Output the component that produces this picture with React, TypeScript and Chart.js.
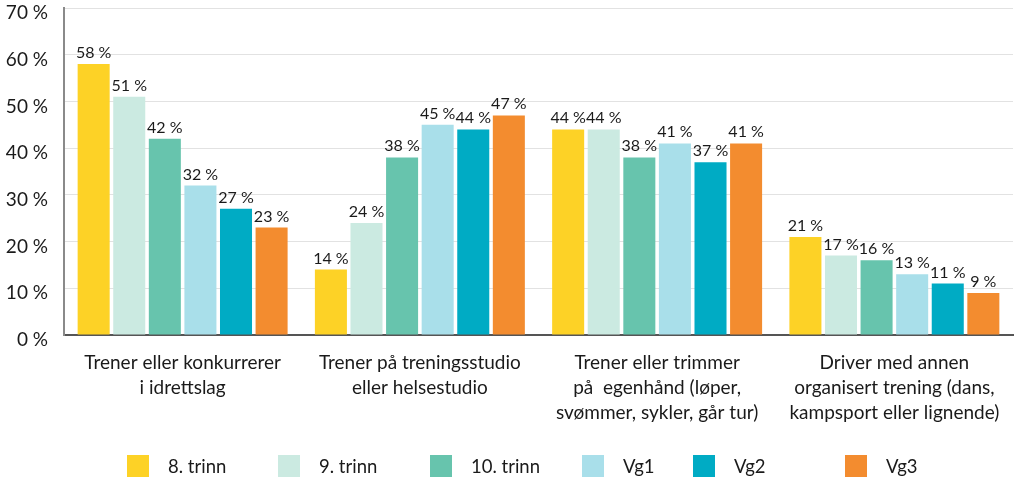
import React, { useEffect, useRef } from "react";
import { Chart, registerables } from "chart.js";

Chart.register(...registerables);

const categories: string[][] = [
  ["Trener eller konkurrerer", "i idrettslag"],
  ["Trener på treningsstudio", "eller helsestudio"],
  ["Trener eller trimmer", "på  egenhånd (løper,", "svømmer, sykler, går tur)"],
  ["Driver med annen", "organisert trening (dans,", "kampsport eller lignende)"],
];
const seriesNames = ["8. trinn", "9. trinn", "10. trinn", "Vg1", "Vg2", "Vg3"];
const trinn8 = [58, 14, 44, 21];
const trinn9 = [51, 24, 44, 17];
const trinn10 = [42, 38, 38, 16];
const vg1 = [32, 45, 41, 13];
const vg2 = [27, 44, 37, 11];
const vg3 = [23, 47, 41, 9];
const seriesValues = [trinn8, trinn9, trinn10, vg1, vg2, vg3];
const seriesColors = ["#FDD226", "#CBEAE1", "#67C4AD", "#A9DFEA", "#00ABC4", "#F38C2F"];
const yMin = 0;
const yMax = 70;
const yStep = 10;

// legend layout: left edge of the first swatch and offsets of each swatch from it
const legendStartX = 127;
const legendOffsets = [0, 151, 303, 455, 566, 718];

const FONT = "Lato, 'Open Sans', sans-serif";
const TEXT = "#1a1a1a";

const valueLabels = {
  id: "valueLabels",
  afterDatasetsDraw(chart: any) {
    const ctx = chart.ctx;
    ctx.save();
    ctx.font = `16px ${FONT}`;
    ctx.fillStyle = TEXT;
    ctx.textAlign = "center";
    ctx.textBaseline = "alphabetic";
    chart.data.datasets.forEach((ds: any, i: number) => {
      const meta = chart.getDatasetMeta(i);
      meta.data.forEach((el: any, j: number) => {
        ctx.fillText(`${ds.data[j]} %`, el.x, el.y - 6);
      });
    });
    ctx.restore();
  },
};

const customLegend = {
  id: "customLegend",
  afterDraw(chart: any) {
    const ctx = chart.ctx;
    ctx.save();
    ctx.font = `18.5px ${FONT}`;
    const box = 22;
    const textGap = 19;
    const cy = chart.height - 14;
    ctx.textBaseline = "middle";
    ctx.textAlign = "left";
    chart.data.datasets.forEach((ds: any, i: number) => {
      const x = legendStartX + legendOffsets[i];
      ctx.fillStyle = ds.backgroundColor;
      ctx.fillRect(x, cy - box / 2, box, box);
      ctx.fillStyle = TEXT;
      ctx.fillText(ds.label, x + box + textGap, cy + 1);
    });
    ctx.restore();
  },
};

export default function App() {
  const ref = useRef<HTMLCanvasElement | null>(null);
  useEffect(() => {
    if (!ref.current) return;
    const chart = new Chart(ref.current, {
      type: "bar",
      data: {
        labels: categories,
        datasets: seriesNames.map((name, i) => ({
          label: name,
          data: seriesValues[i],
          backgroundColor: seriesColors[i],
          borderWidth: 0,
          barPercentage: 0.9,
          categoryPercentage: 0.9,
        })),
      },
      options: {
        animation: false,
        responsive: true,
        maintainAspectRatio: false,
        layout: { padding: { top: 8, right: 10, left: 0, bottom: 45 } },
        plugins: {
          legend: { display: false },
          tooltip: { enabled: false },
        },
        scales: {
          x: {
            grid: { display: false, drawTicks: false },
            border: { display: true, color: "#555555", width: 2 },
            ticks: {
              color: TEXT,
              font: { family: FONT, size: 19, lineHeight: 25 / 19 },
              padding: 15,
              maxRotation: 0,
              autoSkip: false,
            },
            afterFit: (scale: any) => {
              scale.height = 100;
            },
          },
          y: {
            min: yMin,
            max: yMax,
            grid: { color: "#e2e2e2", lineWidth: 1, drawTicks: false },
            border: { display: true, color: "#8a8a8a", width: 2 },
            ticks: {
              stepSize: yStep,
              color: TEXT,
              font: { family: FONT, size: 19 },
              padding: 16,
              labelOffset: 5,
              callback: (v: any) => `${v} %`,
            },
            afterFit: (scale: any) => {
              scale.width = 64;
              scale.paddingTop = 0;
              scale.paddingBottom = 0;
            },
          },
        },
      },
      plugins: [valueLabels, customLegend],
    });
    return () => chart.destroy();
  }, []);
  return (
    <div style={{ position: "fixed", left: 0, top: 0, width: 1023, height: 480, background: "#fff" }}>
      <canvas ref={ref} />
    </div>
  );
}
